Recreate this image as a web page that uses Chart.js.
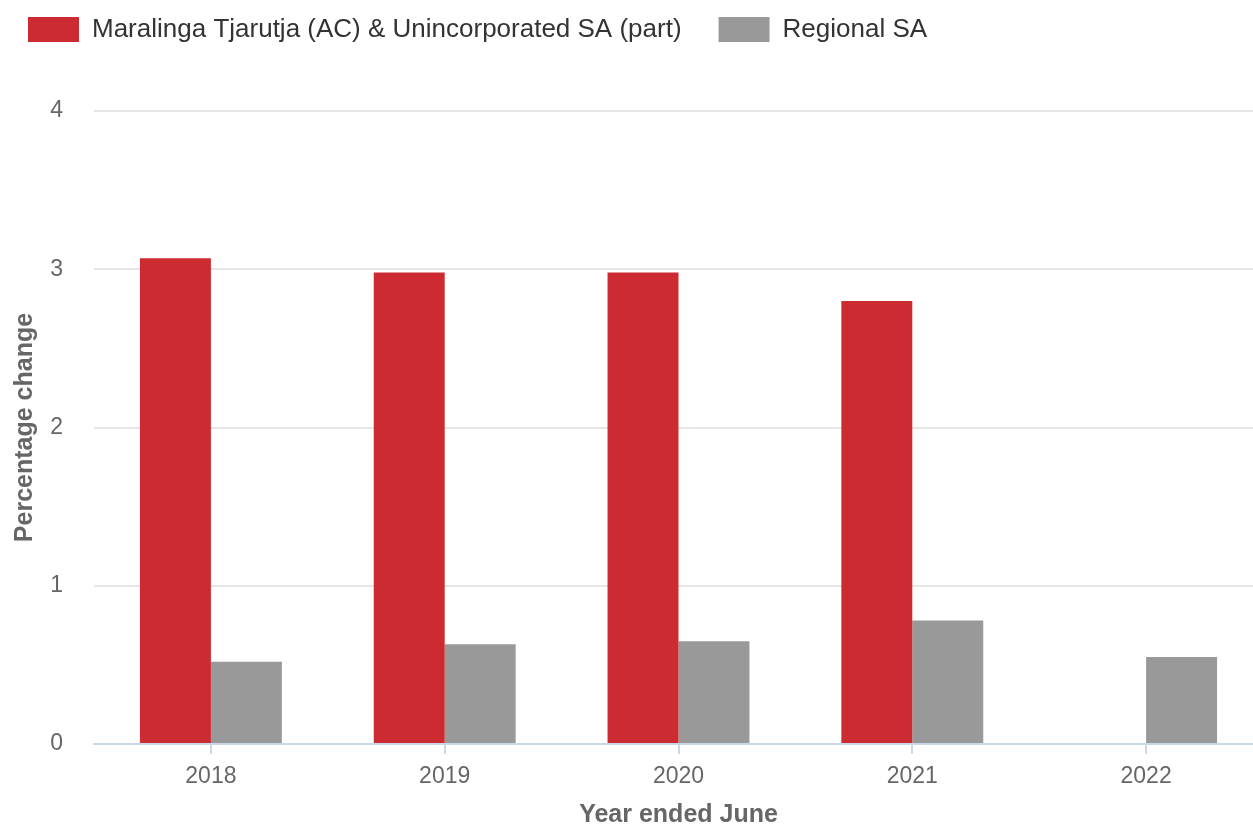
<!DOCTYPE html>
<html>
<head>
<meta charset="utf-8">
<script src="https://cdn.jsdelivr.net/npm/chart.js@4/dist/chart.umd.min.js"></script>
<style>
  html, body { margin: 0; padding: 0; background: #ffffff; overflow: hidden; }
  /* plot runs a little past the right edge of the window, as in the source image */
  #wrap { width: 1263px; height: 825px; position: relative; }
</style>
</head>
<body>
<div id="wrap"><canvas id="growthChart"></canvas></div>
<script>
// Chart data
const years = ['2018', '2019', '2020', '2021', '2022'];
const maralingaValues = [3.07, 2.98, 2.98, 2.80, null];
const regionalValues = [0.52, 0.63, 0.65, 0.78, 0.55];
const seriesNames = ['Maralinga Tjarutja (AC) & Unincorporated SA (part)', 'Regional SA'];

// Give the legend a fixed block above the plot and nudge it into place
const legendSpacer = {
  id: 'legendSpacer',
  beforeInit(chart) {
    const fit = chart.legend.fit;
    chart.legend.fit = function() {
      fit.bind(chart.legend)();
      this.height = 111;
    };
  },
  afterLayout(chart) {
    chart.legend.left = -9;
    chart.legend.top = -20.5;
  }
};

const ctx = document.getElementById('growthChart').getContext('2d');
new Chart(ctx, {
  type: 'bar',
  data: {
    labels: years,
    datasets: [
      {
        label: seriesNames[0],
        data: maralingaValues,
        backgroundColor: '#cc2b31',
        borderWidth: 0
      },
      {
        label: seriesNames[1],
        data: regionalValues,
        backgroundColor: '#999999',
        borderWidth: 0
      }
    ]
  },
  options: {
    responsive: true,
    maintainAspectRatio: false,
    animation: false,
    layout: { padding: { left: -2, right: 0, top: 0, bottom: 0 } },
    datasets: {
      bar: { categoryPercentage: 0.607, barPercentage: 1 }
    },
    scales: {
      x: {
        afterFit: function(scale) { scale.height = 81; },
        grid: {
          offset: false,
          drawOnChartArea: false,
          drawTicks: true,
          tickLength: 10,
          color: '#ccd6eb',
          lineWidth: 2
        },
        border: { display: true, color: '#ccd6eb', width: 2 },
        ticks: {
          color: '#666666',
          padding: 9,
          font: { family: 'Liberation Sans, Arial, sans-serif', size: 23 }
        },
        title: {
          display: true,
          text: 'Year ended June',
          color: '#666666',
          padding: { top: 0, bottom: -5 },
          font: { family: 'Liberation Sans, Arial, sans-serif', size: 25, weight: 'bold' }
        }
      },
      y: {
        min: 0,
        max: 4,
        afterFit: function(scale) { scale.width = 96; },
        grid: {
          color: '#e6e6e6',
          lineWidth: 2,
          drawTicks: false
        },
        border: { display: false },
        ticks: {
          stepSize: 1,
          color: '#666666',
          padding: 31,
          font: { family: 'Liberation Sans, Arial, sans-serif', size: 23 }
        },
        title: {
          display: true,
          text: 'Percentage change',
          color: '#666666',
          padding: { top: 12, bottom: 0 },
          font: { family: 'Liberation Sans, Arial, sans-serif', size: 25, weight: 'bold' }
        }
      }
    },
    plugins: {
      legend: {
        position: 'top',
        align: 'start',
        labels: {
          boxWidth: 51,
          boxHeight: 25,
          padding: 37,
          color: '#333333',
          font: { family: 'Liberation Sans, Arial, sans-serif', size: 26 }
        }
      },
      tooltip: { enabled: false }
    }
  },
  plugins: [legendSpacer]
});
</script>
</body>
</html>
